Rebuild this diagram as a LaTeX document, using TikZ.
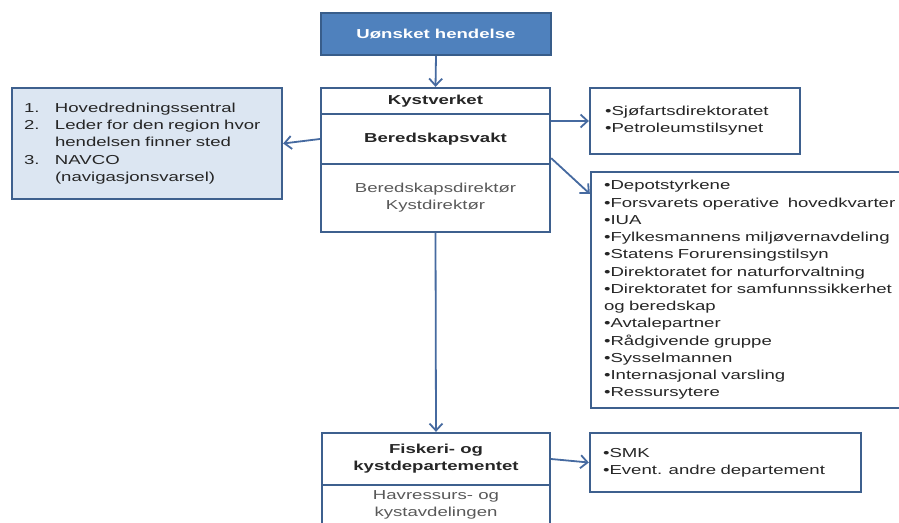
\documentclass[tikz,border=0pt]{standalone}
\usepackage{fontspec}
\setmainfont{Liberation Sans}[FakeStretch=1.43]
\usetikzlibrary{arrows.meta}
\definecolor{kant}{RGB}{62,96,142}
\definecolor{pilfarge}{RGB}{70,106,160}
\definecolor{blaa}{RGB}{79,129,189}
\definecolor{moerkblaa}{RGB}{56,93,138}
\definecolor{lysblaa}{RGB}{220,230,242}
\definecolor{tekst}{RGB}{38,38,38}
\definecolor{graatekst}{RGB}{89,89,89}
\begin{document}
\fontsize{13}{17.25}\selectfont
\begin{tikzpicture}[x=1pt,y=-1pt,
  boks/.style={draw=kant,line width=2.3pt,inner sep=0pt,align=center,text=tekst},
  pil/.style={draw=pilfarge,line width=1.8pt,-{Straight Barb[length=7pt,width=13pt]}}]
\clip (0,0) rectangle (899,522);
\fill[white] (0,0) rectangle (899,522);
\node[boks,fill=blaa,draw=moerkblaa,text=white,font=\bfseries,minimum width=230pt,minimum height=42pt] (hendelse) at (436,34) {Uønsket hendelse};
\node[boks,font=\bfseries,minimum width=229pt,minimum height=26pt] (kystverket) at (435.5,101) {Kystverket};
\node[boks,font=\bfseries,minimum width=229pt,minimum height=50pt] (vakt) at (435.5,139) {Beredskapsvakt};
\node[boks,text=graatekst,minimum width=229pt,minimum height=68pt] (direktor) at (435.5,198) {Beredskapsdirektør\\Kystdirektør};
\node[boks,fill=lysblaa,minimum width=270pt,minimum height=111pt,text width=246pt,align=left] (varsling) at (147,143.5)
  {\makebox[31pt][l]{1.}Hovedredningssentral\\
   \makebox[31pt][l]{2.}Leder for den region hvor\\
   \hspace*{31pt}hendelsen finner sted\\
   \makebox[31pt][l]{3.}NAVCO\\
   \hspace*{31pt}(navigasjonsvarsel)};
\node[boks,minimum width=210pt,minimum height=66pt,text width=180pt,align=left] (etater) at (695,121)
  {\textbullet Sjøfartsdirektoratet\\\textbullet Petroleumstilsynet};
\node[boks,minimum width=349pt,minimum height=236pt,text width=323pt,align=left] (beredskap) at (765.5,290)
  {\textbullet Depotstyrkene\\
   \textbullet Forsvarets operative~ hovedkvarter\\
   \textbullet IUA\\
   \textbullet Fylkesmannens miljøvernavdeling\\
   \textbullet Statens Forurensingstilsyn\\
   \textbullet Direktoratet for naturforvaltning\\
   \textbullet Direktoratet for samfunnssikkerhet\\
   og beredskap\\
   \textbullet Avtalepartner\\
   \textbullet Rådgivende gruppe\\
   \textbullet Sysselmannen\\
   \textbullet Internasjonal varsling\\
   \textbullet Ressursytere};
\node[boks,font=\bfseries,minimum width=228pt,minimum height=52pt] (departement) at (436,459) {Fiskeri- og\\kystdepartementet};
\node[boks,text=graatekst,minimum width=228pt,minimum height=40pt] (avdeling) at (436,505) {Havressurs- og\\kystavdelingen};
\node[boks,minimum width=271pt,minimum height=59pt,text width=245pt,align=left] (andre) at (725.5,462.5)
  {\textbullet SMK\\\textbullet Event. andre departement};
\draw[pil] (hendelse.south) -- (kystverket.north);
\draw[pil] (vakt.west) -- (varsling.east);
\draw[pil] (vakt.east |- etater.west) -- (etater.west);
\draw[pil] ([yshift=7pt]vakt.south east) -- ([yshift=-23pt]beredskap.north west);
\draw[pil] (direktor.south) -- (departement.north);
\draw[pil] (departement.east) -- (andre.west);
\end{tikzpicture}
\end{document}
